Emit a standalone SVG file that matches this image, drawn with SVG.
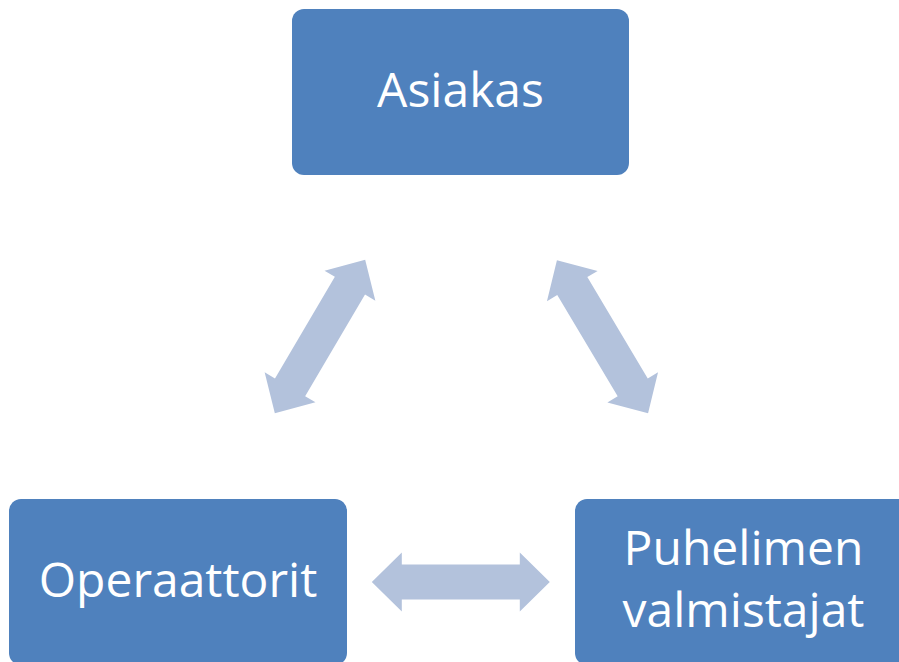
<svg xmlns="http://www.w3.org/2000/svg" xmlns:xlink="http://www.w3.org/1999/xlink" width="899" height="662" viewBox="0 0 899 662">
  <style>
    .box { fill: #4F81BD; }
    .lbl { fill: #FFFFFF; font-family: "Open Sans", "Liberation Sans", sans-serif; font-size: 48px; text-anchor: middle; }
    .arr { fill: #B3C2DC; }
  </style>
  <defs>
    <path id="dblArrow" d="M-89,0 L-59,-29.5 L-59,-17.5 L59,-17.5 L59,-29.5 L89,0 L59,29.5 L59,17.5 L-59,17.5 L-59,29.5 Z"/>
  </defs>
  <rect width="899" height="662" fill="#FFFFFF"/>
  <g id="connectors">
    <use xlink:href="#dblArrow" class="arr" transform="translate(320,336.5) rotate(120.5)"/>
    <use xlink:href="#dblArrow" class="arr" transform="translate(602.5,336.7) rotate(59.2)"/>
    <use xlink:href="#dblArrow" class="arr" transform="translate(460.8,582)"/>
  </g>
  <g id="asiakas">
    <rect class="box" x="292" y="9" width="337" height="166" rx="12" ry="12"/>
    <text class="lbl" x="460.5" y="107">Asiakas</text>
  </g>
  <g id="operaattorit">
    <rect class="box" x="9" y="499" width="338" height="166" rx="12" ry="12"/>
    <text class="lbl" x="178" y="597">Operaattorit</text>
  </g>
  <g id="puhelimen-valmistajat">
    <rect class="box" x="575" y="499" width="337" height="166" rx="12" ry="12"/>
    <text class="lbl" x="743.5" y="565">Puhelimen</text>
    <text class="lbl" x="743.5" y="627">valmistajat</text>
  </g>
</svg>
